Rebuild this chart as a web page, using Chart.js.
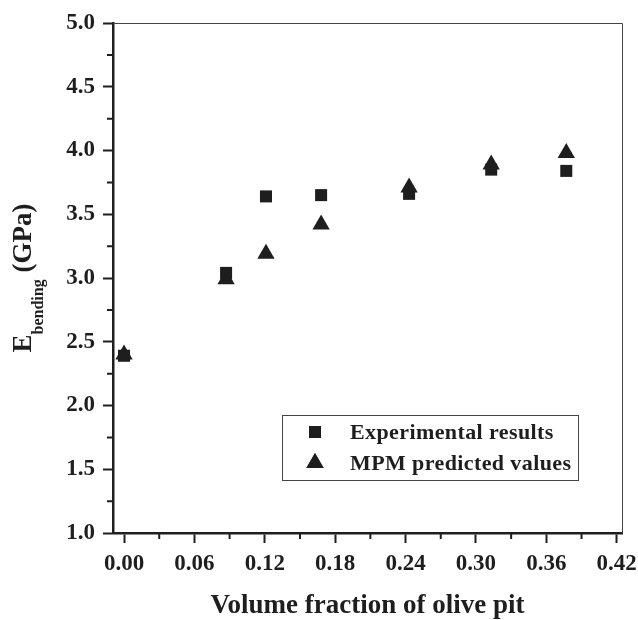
<!DOCTYPE html>
<html>
<head>
<meta charset="utf-8">
<script src="https://cdn.jsdelivr.net/npm/chart.js@4/dist/chart.umd.min.js"></script>
<style>
  html, body { margin: 0; padding: 0; background: #fff; }
  #wrap { width: 638px; height: 620px; }
</style>
</head>
<body>
<div id="wrap"><canvas id="chart" width="638" height="620"></canvas></div>
<script>
// data
const volumeFraction = [0, 0.087, 0.121, 0.168, 0.243, 0.313, 0.377];
const experimental = [2.39, 3.04, 3.64, 3.65, 3.66, 3.85, 3.84];
const mpmPredicted = [2.40, 2.99, 3.19, 3.42, 3.71, 3.89, 3.98];

const xTicks = [0, 0.06, 0.12, 0.18, 0.24, 0.30, 0.36, 0.42];
const xMinorTicks = [0.03, 0.09, 0.15, 0.21, 0.27, 0.33, 0.39];
const yTicks = [1.0, 1.5, 2.0, 2.5, 3.0, 3.5, 4.0, 4.5, 5.0];
const yMinorTicks = [1.25, 1.75, 2.25, 2.75, 3.25, 3.75, 4.25, 4.75];

const ink = '#1e1e1e';
const serif = "'Liberation Serif', 'Times New Roman', serif";

function toPoints(xs, ys) {
  return xs.map((x, i) => ({ x: x, y: ys[i] }));
}

// minor ticks + thin top/right frame
const framePlugin = {
  id: 'frame',
  afterDraw(chart) {
    const { ctx, chartArea: a, scales: { x, y } } = chart;
    ctx.save();
    ctx.strokeStyle = '#444';
    ctx.lineWidth = 1;
    ctx.beginPath();
    ctx.moveTo(a.left, a.top + 0.5);
    ctx.lineTo(a.right + 0.5, a.top + 0.5);
    ctx.lineTo(a.right + 0.5, a.bottom);
    ctx.stroke();

    ctx.strokeStyle = ink;
    ctx.lineWidth = 2;
    ctx.beginPath();
    xMinorTicks.forEach(v => {
      const px = x.getPixelForValue(v);
      ctx.moveTo(px, a.bottom);
      ctx.lineTo(px, a.bottom + 6);
    });
    yMinorTicks.forEach(v => {
      const py = y.getPixelForValue(v);
      ctx.moveTo(a.left, py);
      ctx.lineTo(a.left - 6, py);
    });
    ctx.stroke();
    ctx.restore();
  }
};

// y title with subscript: E_bending (GPa)
const yTitlePlugin = {
  id: 'yTitle',
  afterDraw(chart) {
    const { ctx, chartArea: a } = chart;
    const big = 'bold 27px ' + serif;
    const small = 'bold 16px ' + serif;
    ctx.save();
    ctx.fillStyle = ink;
    ctx.font = big;
    const wE = ctx.measureText('E').width;
    const wRest = ctx.measureText(' (GPa)').width;
    ctx.font = small;
    const wSub = ctx.measureText('bending').width;
    const total = wE + wSub + wRest;
    ctx.translate(31, (a.top + a.bottom) / 2);
    ctx.rotate(-Math.PI / 2);
    ctx.textBaseline = 'alphabetic';
    ctx.textAlign = 'left';
    let cx = -total / 2;
    ctx.font = big;
    ctx.fillText('E', cx, 0);
    cx += wE;
    ctx.font = small;
    ctx.fillText('bending', cx, 12);
    cx += wSub;
    ctx.font = big;
    ctx.fillText(' (GPa)', cx, 0);
    ctx.restore();
  }
};

// boxed legend inside the plot
const legendBoxPlugin = {
  id: 'legendBox',
  afterDraw(chart) {
    const { ctx } = chart;
    ctx.save();
    ctx.strokeStyle = '#444';
    ctx.lineWidth = 1;
    ctx.strokeRect(282.5, 415.5, 296, 65);
    ctx.font = 'bold 22px ' + serif;
    if ('letterSpacing' in ctx) ctx.letterSpacing = '0.4px';
    ctx.textBaseline = 'middle';
    ctx.fillStyle = ink;
    const rows = [432, 463];
    chart.data.datasets.forEach((ds, i) => {
      Chart.helpers.drawPoint(ctx, {
        pointStyle: ds.pointStyle,
        radius: ds.pointRadius,
        rotation: 0,
        borderWidth: 0
      }, 315, rows[i]);
      ctx.fillStyle = ink;
      ctx.fill();
      ctx.fillText(ds.label, 350, rows[i] + 1);
    });
    ctx.restore();
  }
};

new Chart(document.getElementById('chart'), {
  type: 'scatter',
  data: {
    datasets: [
      {
        label: 'Experimental results',
        data: toPoints(volumeFraction, experimental),
        pointStyle: 'rect',
        pointRadius: 8.5,
        pointHoverRadius: 8.5,
        backgroundColor: ink,
        borderColor: ink,
        borderWidth: 0,
        order: 2
      },
      {
        label: 'MPM predicted values',
        data: toPoints(volumeFraction, mpmPredicted),
        pointStyle: 'triangle',
        pointRadius: 10,
        pointHoverRadius: 10,
        backgroundColor: ink,
        borderColor: ink,
        borderWidth: 0,
        order: 1
      }
    ]
  },
  options: {
    responsive: false,
    animation: false,
    layout: { padding: { left: 0, right: 16, top: 23, bottom: 0 } },
    plugins: { legend: { display: false }, tooltip: { enabled: false } },
    scales: {
      x: {
        type: 'linear',
        min: -0.0094,
        max: 0.4245,
        afterBuildTicks: s => { s.ticks = xTicks.map(v => ({ value: v })); },
        afterFit: s => { s.height = 87; s.paddingLeft = 0; s.paddingRight = 0; },
        grid: { drawOnChartArea: false, tickLength: 10, tickWidth: 2, tickColor: ink },
        border: { display: true, width: 2.5, color: ink },
        ticks: {
          padding: 7,
          color: ink,
          font: { family: serif, size: 23, weight: 'bold' },
          maxRotation: 0,
          callback: v => v.toFixed(2)
        },
        title: {
          display: true,
          text: 'Volume fraction of olive pit',
          color: ink,
          font: { family: serif, size: 27, weight: 'bold', lineHeight: 1 },
          padding: { top: 0, bottom: 0 }
        }
      },
      y: {
        type: 'linear',
        min: 1,
        max: 5,
        afterBuildTicks: s => { s.ticks = yTicks.map(v => ({ value: v })); },
        afterFit: s => { s.width = 113; s.paddingTop = 0; s.paddingBottom = 0; },
        grid: { drawOnChartArea: false, tickLength: 10, tickWidth: 2, tickColor: ink },
        border: { display: true, width: 2.5, color: ink },
        ticks: {
          padding: 8,
          color: ink,
          font: { family: serif, size: 23, weight: 'bold' },
          callback: v => v.toFixed(1)
        }
      }
    }
  },
  plugins: [framePlugin, yTitlePlugin, legendBoxPlugin]
});
</script>
</body>
</html>
